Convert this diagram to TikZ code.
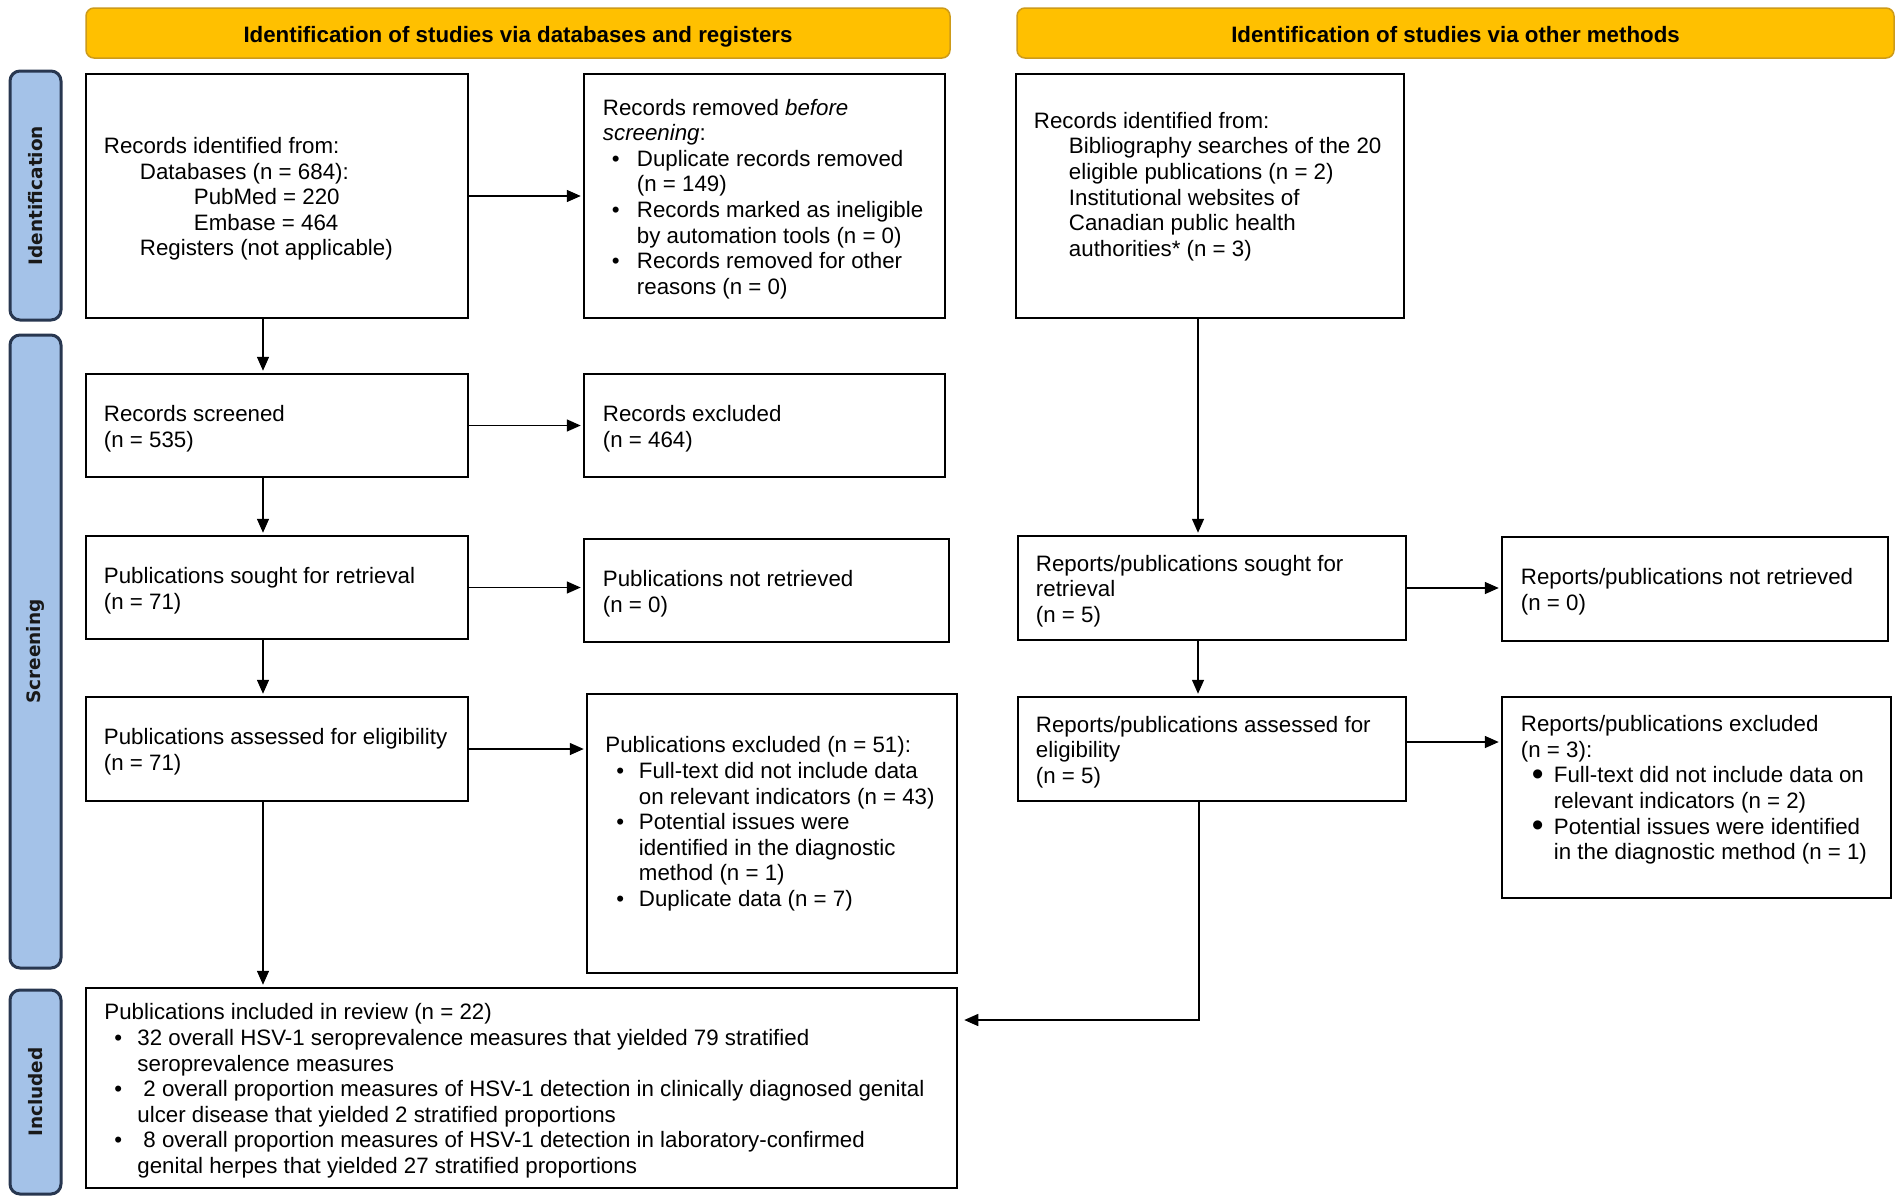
\documentclass[tikz,border=0pt]{standalone}
\usepackage{fontspec}
\setmainfont{Liberation Sans}
\newfontfamily\sidefont{DejaVu Sans}
\usetikzlibrary{arrows.meta,calc}
\definecolor{hdrfill}{RGB}{255,192,0}
\definecolor{hdrdraw}{RGB}{205,155,25}
\definecolor{sidefill}{RGB}{164,194,232}
\definecolor{sidedraw}{RGB}{40,55,80}
\newcommand{\bitem}[3]{\hspace*{#1}\makebox[#2][l]{\textbullet}#3}
\newcommand{\bigbul}{\raisebox{-0.12em}{\scalebox{1.5}{\textbullet}}}
\newcommand{\bbitem}[3]{\hspace*{#1}\makebox[#2][l]{\bigbul}#3}
\newcommand{\bcont}[2]{\hspace*{#1}#2}
\begin{document}
\begin{tikzpicture}[x=1pt,y=-1pt,
  box/.style={draw=black, line width=2.5pt, fill=white, inner sep=0pt},
  txt/.style={align=left, inner sep=0pt, anchor=west, yshift=-3pt, font=\fontsize{22.3}{25.6}\selectfont},
  hdr/.style={draw=hdrdraw, line width=1.5pt, fill=hdrfill, rounded corners=8pt, inner sep=0pt, text height=21pt, text depth=2pt, font=\bfseries\fontsize{22.3}{25.6}\selectfont},
  side/.style={draw=sidedraw, line width=3pt, fill=sidefill, rounded corners=10pt, inner sep=0pt},
  sidetxt/.style={rotate=90, font=\sidefont\bfseries\fontsize{18.5}{20}\selectfont, inner sep=0pt, text=black!90},
  arr/.style={line width=1.5pt, -{Triangle[length=14pt,width=12pt]}, shorten >=2pt},
]
\useasboundingbox (0,0) rectangle (1902,1200);
\fill[white] (0,0) rectangle (1902,1200);

% headers
\node[hdr, minimum width=864pt, minimum height=50pt] (H1) at (518,33) {Identification of studies via databases and registers};
\node[hdr, minimum width=877pt, minimum height=50pt] (H2) at (1455.5,33) {Identification of studies via other methods};

% side labels
\node[side, minimum width=51pt, minimum height=249pt] (S1) at (35.5,195.5) {};
\node[sidetxt] (S1t) at (S1.center) {Identification};
\node[side, minimum width=51pt, minimum height=633pt] (S2) at (35.5,651.5) {};
\node[sidetxt] (S2t) at (S2.center) {Screening};
\node[side, minimum width=51pt, minimum height=204pt] (S3) at (35.5,1092) {};
\node[sidetxt] (S3t) at (S3.center) {Included};

% boxes
\node[box, minimum width=382pt, minimum height=244pt] (A) at (277,196) {};
\node[box, minimum width=361pt, minimum height=244pt] (B) at (764.5,196) {};
\node[box, minimum width=388pt, minimum height=244pt] (C) at (1210,196) {};
\node[box, minimum width=382pt, minimum height=103pt] (D) at (277,425.5) {};
\node[box, minimum width=361pt, minimum height=103pt] (E) at (764.5,425.5) {};
\node[box, minimum width=382pt, minimum height=103pt] (F) at (277,587.5) {};
\node[box, minimum width=365pt, minimum height=103pt] (G) at (766.5,590.5) {};
\node[box, minimum width=382pt, minimum height=104pt] (H) at (277,749) {};
\node[box, minimum width=370pt, minimum height=279pt] (I) at (772,833.5) {};
\node[box, minimum width=871pt, minimum height=200pt] (J) at (521.5,1088) {};
\node[box, minimum width=388pt, minimum height=104pt] (K) at (1212,588) {};
\node[box, minimum width=386pt, minimum height=104pt] (L) at (1695,589) {};
\node[box, minimum width=388pt, minimum height=104pt] (M) at (1212,749) {};
\node[box, minimum width=389pt, minimum height=201pt] (N) at (1696.5,797.5) {};

% texts
\node[txt] (At) at ([xshift=19pt]A.west) {Records identified from:\\
\hspace*{36pt}Databases (n = 684):\\
\hspace*{90pt}PubMed = 220\\
\hspace*{90pt}Embase = 464\\
\hspace*{36pt}Registers (not applicable)};

\node[txt] (Bt) at ([xshift=20pt]B.west) {Records removed \textit{before}\\
\textit{screening}:\\
\bitem{9pt}{25pt}{Duplicate records removed}\\
\bcont{34pt}{(n = 149)}\\
\bitem{9pt}{25pt}{Records marked as ineligible}\\
\bcont{34pt}{by automation tools (n = 0)}\\
\bitem{9pt}{25pt}{Records removed for other}\\
\bcont{34pt}{reasons (n = 0)}};

\node[txt] (Ct) at ([xshift=19pt,yshift=12.5pt]C.west) {Records identified from:\\
\hspace*{35pt}Bibliography searches of the 20\\
\hspace*{35pt}eligible publications (n = 2)\\
\hspace*{35pt}Institutional websites of\\
\hspace*{35pt}Canadian public health\\
\hspace*{35pt}authorities* (n = 3)};

\node[txt] (Dt) at ([xshift=19pt]D.west) {Records screened\\(n = 535)};
\node[txt] (Et) at ([xshift=20pt]E.west) {Records excluded\\(n = 464)};
\node[txt] (Ft) at ([xshift=19pt]F.west) {Publications sought for retrieval\\(n = 71)};
\node[txt] (Gt) at ([xshift=20pt]G.west) {Publications not retrieved\\(n = 0)};
\node[txt] (Ht) at ([xshift=19pt]H.west) {Publications assessed for eligibility\\(n = 71)};

\node[txt] (It) at ([xshift=19.5pt,yshift=12.5pt]I.west) {Publications excluded (n = 51):\\
\bitem{11pt}{22.5pt}{Full-text did not include data}\\
\bcont{33.5pt}{on relevant indicators (n = 43)}\\
\bitem{11pt}{22.5pt}{Potential issues were}\\
\bcont{33.5pt}{identified in the diagnostic}\\
\bcont{33.5pt}{method (n = 1)}\\
\bitem{11pt}{22.5pt}{Duplicate data (n = 7)}};

\node[txt] (Jt) at ([xshift=19.5pt]J.west) {Publications included in review (n = 22)\\
\bitem{10pt}{23pt}{32 overall HSV-1 seroprevalence measures that yielded 79 stratified}\\
\bcont{33pt}{seroprevalence measures}\\
\bitem{10pt}{23pt}{\hspace*{6pt}2 overall proportion measures of HSV-1 detection in clinically diagnosed genital}\\
\bcont{33pt}{ulcer disease that yielded 2 stratified proportions}\\
\bitem{10pt}{23pt}{\hspace*{6pt}8 overall proportion measures of HSV-1 detection in laboratory-confirmed}\\
\bcont{33pt}{genital herpes that yielded 27 stratified proportions}};

\node[txt] (Kt) at ([xshift=19pt]K.west) {Reports/publications sought for\\retrieval\\(n = 5)};
\node[txt] (Lt) at ([xshift=20pt]L.west) {Reports/publications not retrieved\\(n = 0)};
\node[txt] (Mt) at ([xshift=19pt]M.west) {Reports/publications assessed for\\eligibility\\(n = 5)};
\node[txt] (Nt) at ([xshift=20pt,yshift=10.5pt]N.west) {Reports/publications excluded\\
(n = 3):\\
\bbitem{11pt}{22pt}{Full-text did not include data on}\\
\bcont{33pt}{relevant indicators (n = 2)}\\
\bbitem{11pt}{22pt}{Potential issues were identified}\\
\bcont{33pt}{in the diagnostic method (n = 1)}};

% connectors
\draw[arr] (A.east) -- (B.west);
\draw[arr] (D.east) -- (E.west);
\draw[arr] (F.east) -- (F.east -| G.west);
\draw[arr] (H.east) -- (H.east -| I.west);
\draw[arr] (K.east) -- (K.east -| L.west);
\draw[arr] ([yshift=7pt]M.east) -- ([yshift=7pt]M.east -| N.west);

\draw[arr] ([xshift=-14pt]A.south) -- ([xshift=-14pt]D.north);
\draw[arr] ([xshift=-14pt]D.south) -- ([xshift=-14pt]F.north);
\draw[arr] ([xshift=-14pt]F.south) -- ([xshift=-14pt]H.north);
\draw[arr] ([xshift=-14pt]H.south) -- ([xshift=-14pt]H.south |- J.north);
\draw[arr] ([xshift=-12pt]C.south) -- ([xshift=-12pt]C.south |- K.north);
\draw[arr] ([xshift=-14pt]K.south) -- ([xshift=-14pt]M.north);
\draw[arr, shorten >=6pt] ([xshift=-13pt]M.south) |- ([yshift=68pt]J.east);
\end{tikzpicture}
\end{document}
